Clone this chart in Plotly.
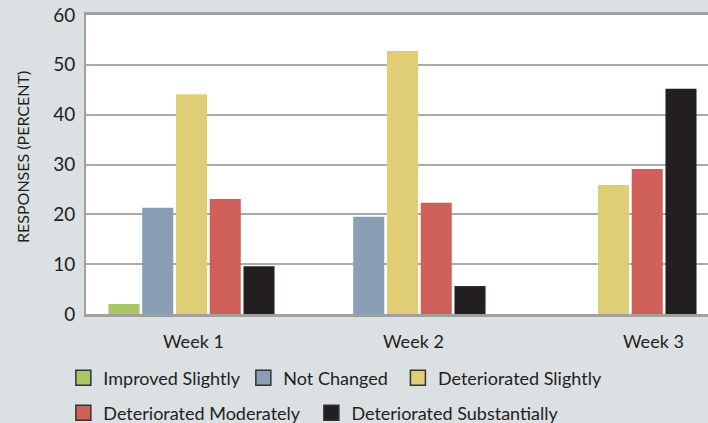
import plotly.graph_objects as go

# Survey responses by week (percent of respondents)
weeks = ["Week 1", "Week 2", "Week 3"]
series_names = [
    "Improved Slightly",
    "Not Changed",
    "Deteriorated Slightly",
    "Deteriorated Moderately",
    "Deteriorated Substantially",
]
improved_slightly = [2.0, 0, 0]
not_changed = [21.3, 19.5, 0]
deteriorated_slightly = [44.1, 52.8, 25.9]
deteriorated_moderately = [23.1, 22.3, 29.1]
deteriorated_substantially = [9.6, 5.6, 45.2]
y_ticks = [0, 10, 20, 30, 40, 50, 60]
y_title = "RESPONSES (PERCENT)"

series_values = [
    improved_slightly,
    not_changed,
    deteriorated_slightly,
    deteriorated_moderately,
    deteriorated_substantially,
]
colors = ["#abc765", "#889fb5", "#dfce75", "#cf605a", "#231f20"]

FONT = "Lato"
TEXT = "#231f20"
GRID = "#aaaaaa"

fig = go.Figure()

legend_ids = ["legend", "legend2", "legend3", "legend4", "legend5"]
for name, vals, col in zip(series_names, series_values, colors):
    fig.add_trace(go.Bar(
        x=weeks, y=vals, name=name, marker=dict(color=col, line=dict(width=0)),
        showlegend=False,
    ))

# Legend swatches with an outlined square
for name, col, lg in zip(series_names, colors, legend_ids):
    fig.add_trace(go.Scatter(
        x=[None], y=[None], mode="markers", name=name, legend=lg,
        marker=dict(symbol="square", size=15, color=col,
                    line=dict(color="#333333", width=1.5)),
    ))

# Legend placement in container coordinates (two rows)
legend_pos = [(0.0895, 0.1064), (0.3437, 0.1064), (0.562, 0.1064),
              (0.0895, 0.0236), (0.4398, 0.0236)]
legend_style = dict(font=dict(family=FONT, size=18, color=TEXT),
                    bgcolor="rgba(0,0,0,0)", borderwidth=0,
                    xref="container", yref="container",
                    xanchor="left", yanchor="middle", orientation="h")
layout_legends = {}
for lg, (lx, ly) in zip(legend_ids, legend_pos):
    layout_legends[lg] = dict(x=lx, y=ly, **legend_style)

# Category labels below the axis
label_shift = [2, 11, 40]
annotations = []
for wk, sh in zip(weeks, label_shift):
    annotations.append(dict(
        x=wk, xref="x", y=0, yref="paper", yanchor="top", xanchor="center",
        text=wk, showarrow=False, xshift=sh, yshift=-14,
        font=dict(family=FONT, size=18, color=TEXT),
    ))

# Rotated y-axis title, set slightly above the plot's vertical centre
annotations.append(dict(
    x=-0.103, xref="paper", y=0.525, yref="paper",
    xanchor="center", yanchor="middle", textangle=-90,
    text=y_title, showarrow=False,
    font=dict(family=FONT, size=16, color=TEXT),
))

fig.update_layout(
    width=708, height=423,
    margin=dict(l=86, r=0, t=15, b=109, autoexpand=False),
    paper_bgcolor="#dbe0e2",
    plot_bgcolor="#ffffff",
    barmode="group", bargap=0.2, bargroupgap=0.08,
    font=dict(family=FONT, color=TEXT),
    annotations=annotations,
    **layout_legends,
)

fig.update_xaxes(
    type="category", range=[-0.5, 2.448],
    showticklabels=False, showgrid=False,
    showline=True, linecolor="#a0a0a0", linewidth=3, mirror=True,
    ticks="",
)
fig.update_yaxes(
    range=[0, 60], tickvals=y_ticks,
    showgrid=True, gridcolor=GRID, gridwidth=2,
    zeroline=False,
    showline=True, linecolor="#a0a0a0", linewidth=2,
    ticks="", ticklabelstandoff=5,
    tickfont=dict(family=FONT, size=19, color=TEXT),
)

fig.write_html("out.html")
